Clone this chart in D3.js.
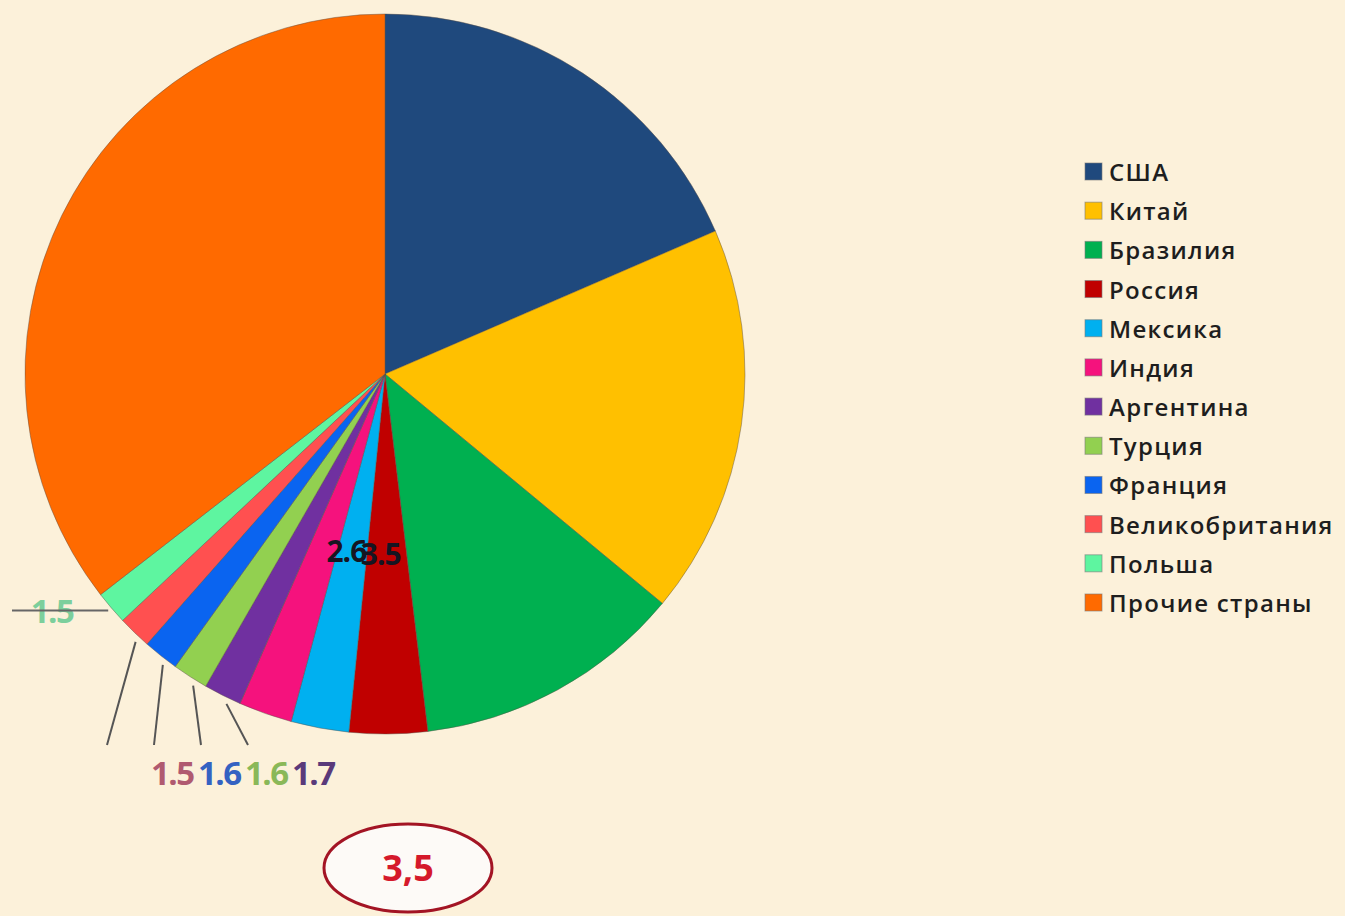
<!DOCTYPE html>
<html>
<head>
<meta charset="utf-8">
<script src="https://cdn.jsdelivr.net/npm/d3@7"></script>
<style>
  html, body { margin: 0; padding: 0; background: #fcf1da; }
  svg { display: block; }
</style>
</head>
<body>
<div id="chart"></div>
<script>
'use strict';

// data (share, %)
var countries = ['США', 'Китай', 'Бразилия', 'Россия', 'Мексика', 'Индия',
  'Аргентина', 'Турция', 'Франция', 'Великобритания', 'Польша', 'Прочие страны']
var shares = [18.5, 17.5, 12.1, 3.5, 2.6, 2.4, 1.7, 1.6, 1.6, 1.5, 1.5, 35.5]
var sliceColors = ['#1f497d', '#ffc000', '#00b050', '#c00000', '#00b0f0', '#f5127d',
  '#7030a0', '#92d050', '#0a64f0', '#ff5050', '#5ef5a0', '#ff6a00']
var labelColors = ['#1f497d', '#a08030', '#2a8050', '#111', '#111', '#111',
  '#5a3a7a', '#8ab858', '#3462c2', '#b05a70', '#7ccf9c', '#111']
var insideLabels = ['Россия', 'Мексика']
var bottomLabels = ['Великобритания', 'Франция', 'Турция', 'Аргентина']
var sideLabels = ['Польша']
var badgeText = '3,5'

var W = 1345, H = 916
var svg = d3.select('#chart').append('svg').attr('width', W).attr('height', H)

svg.append('rect').attr('width', W).attr('height', H).style('fill', '#fcf1da')

var cx = 385, cy = 374, R = 360
var data = countries.map(function(c, i) { return {name: c, value: shares[i], i: i} })

var pie = d3.pie().sort(null).value(function(d) { return d.value })
var arcs = pie(data)
var arc = d3.arc().innerRadius(0).outerRadius(R)

var g = svg.append('g').attr('transform', 'translate(' + cx + ',' + cy + ')')

g.selectAll('.slice')
  .data(arcs)
  .enter().append('path')
  .attr('class', 'slice')
  .attr('d', arc)
  .style('fill', function(d) { return sliceColors[d.data.i] })
  .style('stroke', 'rgba(90,80,70,0.45)')
  .style('stroke-width', 1)

var fontLab = '"Open Sans", "DejaVu Sans", sans-serif'

function pointAt(a, r) {
  return [Math.sin(a) * r, -Math.cos(a) * r]
}
function midA(d) { return (d.startAngle + d.endAngle) / 2 }

// labels inside (they overlap in the original too)
var inArc = d3.arc().innerRadius(R * 0.5).outerRadius(R * 0.5)
arcs.filter(function(d) { return insideLabels.indexOf(d.data.name) >= 0 })
  .forEach(function(d) {
    var p = inArc.centroid(d)
    g.append('text')
      .attr('x', p[0] - 6).attr('y', p[1] + 11)
      .attr('text-anchor', 'middle')
      .style('font-family', fontLab).style('font-weight', 700).style('font-size', '30px')
      .style('letter-spacing', '-1px')
      .style('fill', '#151522')
      .text(d.data.value.toFixed(1))
  })

// labels below with leader lines
var rowY = 745, rowX = 151, step = 47
arcs.filter(function(d) { return bottomLabels.indexOf(d.data.name) >= 0 })
  .forEach(function(d) {
    var k = bottomLabels.indexOf(d.data.name)
    var p = pointAt(midA(d) - 0.02, R + 6)
    var lx = rowX + k * step
    g.append('line')
      .attr('x1', p[0]).attr('y1', p[1])
      .attr('x2', lx - 44 - cx).attr('y2', rowY - cy)
      .style('stroke', '#555').style('stroke-width', 2)
    g.append('text')
      .attr('x', lx - cx).attr('y', rowY + 40 - cy)
      .style('font-family', fontLab).style('font-weight', 700).style('font-size', '33px')
      .style('letter-spacing', '-1.5px')
      .style('fill', labelColors[d.data.i])
      .text(d.data.value.toFixed(1))
  })

// label on the left with horizontal leader
arcs.filter(function(d) { return sideLabels.indexOf(d.data.name) >= 0 })
  .forEach(function(d) {
    var p = pointAt(midA(d), R + 4)
    g.append('text')
      .attr('x', 52 - cx).attr('y', p[1] + 13)
      .attr('text-anchor', 'middle')
      .style('font-family', fontLab).style('font-weight', 700).style('font-size', '33px')
      .style('letter-spacing', '-1.5px')
      .style('fill', labelColors[d.data.i])
      .text(d.data.value.toFixed(1))
    g.append('line')
      .attr('x1', p[0]).attr('y1', p[1])
      .attr('x2', 12 - cx).attr('y2', p[1])
      .style('stroke', '#666').style('stroke-width', 2)
  })

// legend
var legend = svg.append('g').attr('transform', 'translate(1085,163)')
var ly = d3.scalePoint().domain(countries).range([0, 431])
var items = legend.selectAll('.item')
  .data(data)
  .enter().append('g')
  .attr('class', 'item')
  .attr('transform', function(d) { return 'translate(0,' + ly(d.name) + ')' })
items.append('rect')
  .attr('width', 17).attr('height', 17)
  .style('fill', function(d) { return sliceColors[d.i] })
  .style('stroke', 'rgba(120,120,120,0.6)')
  .style('stroke-width', 1)
items.append('text')
  .attr('x', 24).attr('y', 18)
  .style('font-family', fontLab).style('font-weight', 600).style('font-size', '24px')
  .style('letter-spacing', '1.3px')
  .style('fill', '#1e1e1e')
  .text(function(d) { return d.name })

// badge
svg.append('ellipse')
  .attr('cx', 408).attr('cy', 868).attr('rx', 84).attr('ry', 44)
  .style('fill', '#fdfaf7').style('stroke', '#a31424').style('stroke-width', 3)
svg.append('text')
  .attr('x', 408).attr('y', 881)
  .attr('text-anchor', 'middle')
  .style('font-family', fontLab).style('font-weight', 700).style('font-size', '36px')
  .style('fill', '#d5192b')
  .text(badgeText)
</script>
</body>
</html>
